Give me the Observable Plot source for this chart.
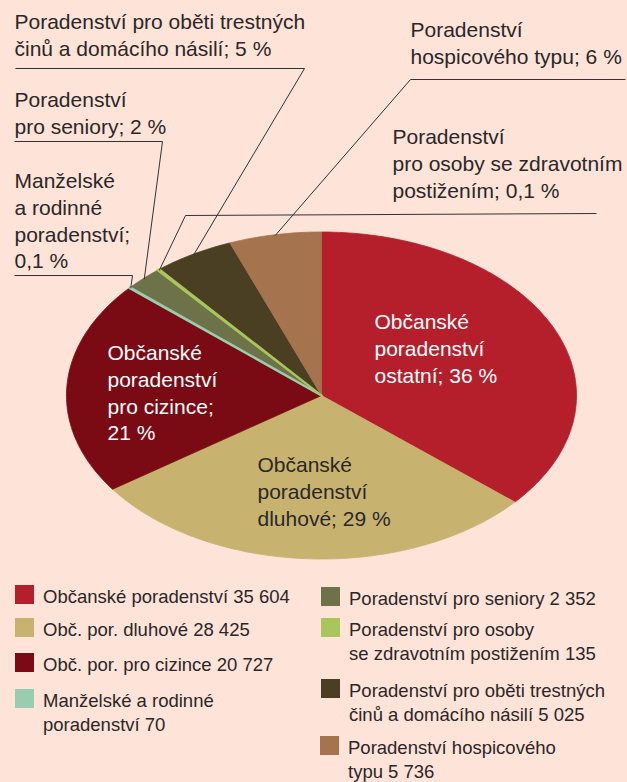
<!DOCTYPE html>
<html>
<head>
<meta charset="utf-8">
<script src="https://cdn.jsdelivr.net/npm/d3@7"></script>
<script src="https://cdn.jsdelivr.net/npm/@observablehq/plot@0.6"></script>
<style>
html, body { margin: 0; padding: 0; background: #fde3d8; }
#wrap { position: relative; width: 627px; height: 782px; overflow: hidden;
  font-family: "Liberation Sans", Arial, Helvetica, sans-serif; color: #2b2728; }
#chart svg { display: block; background: transparent; }
.sw { position: absolute; width: 19px; height: 19px; }
.lt { position: absolute; font-size: 18.5px; line-height: 23.5px; white-space: nowrap; }
</style>
</head>
<body>
<div id="wrap"><div id="chart"></div><div id="legend"></div></div>
<script>
// ---------- data ----------
const categories = [
  "Občanské poradenství ostatní",
  "Obč. por. dluhové",
  "Obč. por. pro cizince",
  "Manželské a rodinné poradenství",
  "Poradenství pro seniory",
  "Poradenství pro osoby se zdravotním postižením",
  "Poradenství pro oběti trestných činů a domácího násilí",
  "Poradenství hospicového typu"
];
const values = [35604, 28425, 20727, 70, 2352, 135, 5025, 5736];
const colors = ["#b51f2c", "#c7b36f", "#7a0a13", "#98cdb0", "#6e7248", "#a9c65c", "#4a3f22", "#a6734f"];
// slice label lines ({p} = computed percentage)
const sliceLabels = [
  ["Občanské", "poradenství", "ostatní; {p} %"],
  ["Občanské", "poradenství", "dluhové; {p} %"],
  ["Občanské", "poradenství", "pro cizince;", "{p} %"],
  ["Manželské", "a rodinné", "poradenství;", "{p} %"],
  ["Poradenství", "pro seniory; {p} %"],
  ["Poradenství", "pro osoby se zdravotním", "postižením; {p} %"],
  ["Poradenství pro oběti trestných", "činů a domácího násilí; {p} %"],
  ["Poradenství", "hospicového typu; {p} %"]
];
// legend label lines ({v} = formatted value)
const legendLabels = [
  ["Občanské poradenství {v}"],
  ["Obč. por. dluhové {v}"],
  ["Obč. por. pro cizince {v}"],
  ["Manželské a rodinné", "poradenství {v}"],
  ["Poradenství pro seniory {v}"],
  ["Poradenství pro osoby", "se zdravotním postižením {v}"],
  ["Poradenství pro oběti trestných", "činů a domácího násilí {v}"],
  ["Poradenství hospicového", "typu {v}"]
];

// ---------- layout ----------
const W = 627, H = 575;
const CX = 321, CY = 395, RX = 255, RY = 163.5;
const LH = 26.7;
const labelLayout = [
  {x: 374, y: 322, fill: "white"},
  {x: 257, y: 465, fill: "dark"},
  {x: 107, y: 353, fill: "white"},
  {x: 14,  y: 181, fill: "dark"},
  {x: 14,  y: 100, fill: "dark"},
  {x: 392, y: 137, fill: "dark"},
  {x: 14,  y: 22,  fill: "dark"},
  {x: 410, y: 30,  fill: "dark"}
];
// leader lines: underline start -> elbow -> slice edge (computed)
const leaderLayout = [
  null, null, null,
  [[14, 275], [132, 275]],
  [[14, 141], [162, 141]],
  [[596, 213], [185, 215]],
  [[15, 68], [304, 68]],
  [[625, 79], [410, 79]]
];
const legendLayout = [
  {x: 15, y: 585}, {x: 15, y: 618}, {x: 15, y: 653}, {x: 15, y: 689},
  {x: 321, y: 587}, {x: 321, y: 618}, {x: 321, y: 679}, {x: 320, y: 736}
];

// ---------- derived ----------
const total = d3.sum(values);
const pct = values.map(v => v / total * 100);
const fmtPct = p => p < 1 ? d3.format(".1f")(p).replace(".", ",") : d3.format(".0f")(p);
const czLocale = d3.formatLocale({decimal: ",", thousands: "\u00a0", grouping: [3], currency: ["", " Kč"]});
const fmtNum = czLocale.format(",d");

const arcs = d3.pie().sort(null).value(d => d)(values);

const slicePts = [];
arcs.forEach((a, i) => {
  const n = Math.max(2, Math.ceil((a.endAngle - a.startAngle) / (Math.PI / 180)));
  slicePts.push({k: categories[i], a: 0, r: 0, thin: pct[i] < 1});
  for (let j = 0; j <= n; j++) {
    slicePts.push({k: categories[i], a: a.startAngle + (a.endAngle - a.startAngle) * j / n, r: 1, thin: pct[i] < 1});
  }
  slicePts.push({k: categories[i], a: 0, r: 0, thin: pct[i] < 1});
});
const px = d => CX + RX * d.r * Math.sin(d.a);
const py = d => CY - RY * d.r * Math.cos(d.a);

const textLines = [];
sliceLabels.forEach((lines, i) => {
  lines.forEach((t, j) => {
    textLines.push({
      t: t.replace("{p}", fmtPct(pct[i])),
      x: labelLayout[i].x,
      y: labelLayout[i].y + j * LH,
      fill: labelLayout[i].fill
    });
  });
});

const leaderPts = [];
leaderLayout.forEach((L, i) => {
  if (!L) return;
  L.forEach(([x, y]) => leaderPts.push({id: i, x, y}));
  const mid = (arcs[i].startAngle + arcs[i].endAngle) / 2;
  leaderPts.push({id: i, x: px({a: mid, r: 0.995}), y: py({a: mid, r: 0.995})});
});

const chart = Plot.plot({
  width: W,
  height: H,
  margin: 0,
  style: {background: "transparent", fontFamily: "'Liberation Sans', Arial, Helvetica, sans-serif"},
  x: {domain: [0, W], range: [0, W], axis: null},
  y: {domain: [0, H], range: [0, H], axis: null},
  color: {domain: categories, range: colors},
  marks: [
    Plot.line(slicePts, {x: px, y: py, z: "k", fill: "k", stroke: "k", strokeWidth: 0.8, curve: "linear", strokeLinejoin: "miter"}),
    Plot.line(slicePts.filter(d => d.thin), {x: px, y: py, z: "k", fill: "k", stroke: "k", strokeWidth: 2.2, curve: "linear"}),
    Plot.line(leaderPts, {x: "x", y: "y", z: "id", stroke: "#333", strokeWidth: 1, strokeLinecap: "butt"}),
    Plot.text(textLines.filter(d => d.fill === "dark"), {x: "x", y: "y", text: "t", fill: "#2b2728", textAnchor: "start", lineAnchor: "middle", fontSize: 21}),
    Plot.text(textLines.filter(d => d.fill === "white"), {x: "x", y: "y", text: "t", fill: "#ffffff", textAnchor: "start", lineAnchor: "middle", fontSize: 21})
  ]
});
document.getElementById("chart").appendChild(chart);

// ---------- legend ----------
const legend = document.getElementById("legend");
legendLabels.forEach((lines, i) => {
  const L = legendLayout[i];
  const sw = document.createElement("div");
  sw.className = "sw";
  sw.style.left = L.x + "px";
  sw.style.top = L.y + "px";
  sw.style.background = colors[i];
  legend.appendChild(sw);
  const tx = document.createElement("div");
  tx.className = "lt";
  tx.style.left = (L.x + 28) + "px";
  tx.style.top = (L.y + 0) + "px";
  tx.innerHTML = lines.map(s => s.replace("{v}", fmtNum(values[i]))).join("<br>");
  legend.appendChild(tx);
});
</script>
</body>
</html>
